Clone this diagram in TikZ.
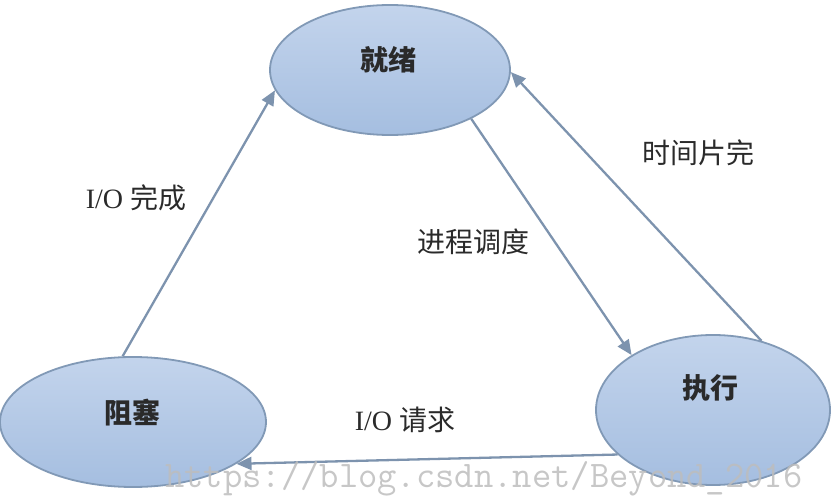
\documentclass[tikz,border=0pt]{standalone}
\usepackage{fontspec}
\setmainfont{Liberation Serif}
\newfontfamily\cjk{Noto Sans CJK SC}
\usetikzlibrary{shapes.geometric,arrows.meta}
\definecolor{efillT}{HTML}{C3D4EC}
\definecolor{efillB}{HTML}{A5BEE0}
\definecolor{edraw}{HTML}{8199B6}
\definecolor{arrc}{HTML}{7D93AE}
\definecolor{txt}{HTML}{2A2A2A}
\definecolor{wm}{HTML}{BDBDBD}
\begin{document}
\begin{tikzpicture}[x=1pt,y=1pt,
  state/.style={ellipse,draw=edraw,line width=1.8pt,top color=efillT,bottom color=efillB,inner sep=0pt},
  stext/.style={text=txt,font=\cjk\bfseries\fontsize{28}{32}\selectfont,inner sep=0pt},
  lbl/.style={text=txt,font=\fontsize{28}{32}\selectfont,inner sep=0pt},
  conn/.style={draw=arrc,line width=2.3pt,-{Triangle[length=15pt,width=13pt]}}
]
\useasboundingbox (0,0) rectangle (836,496);
\node[state,minimum width=240pt,minimum height=130pt] (ready) at (390,426) {};
\node[state,minimum width=266pt,minimum height=130pt] (block) at (133,74) {};
\node[state,minimum width=234pt,minimum height=150pt] (run) at (713,86) {};
\node[stext] (tready) at (388,436) {就绪};
\node[stext] (tblock) at (132,83) {阻塞};
\node[stext] (trun) at (710,108) {执行};
\draw[conn] (block.99) -- (ready.190);
\draw[conn] (ready.-31.5) -- (run.146);
\draw[conn] (run.55) -- (ready.-1.4);
\draw[conn] (run.205) -- (block.-22.4);
\node[lbl] (l1) at (136,298) {I/O {\cjk 完成}};
\node[lbl] (l2) at (473,254) {\cjk 进程调度};
\node[lbl] (l3) at (698,343) {\cjk 时间片完};
\node[lbl] (l4) at (405,76) {I/O {\cjk 请求}};
\node[anchor=base west,inner sep=0pt,text=wm,opacity=0.85,font=\ttfamily\fontsize{37.5}{40}\selectfont] (wmark) at (165,9) {https://blog.csdn.net/Beyond\_2016};
\end{tikzpicture}
\end{document}
